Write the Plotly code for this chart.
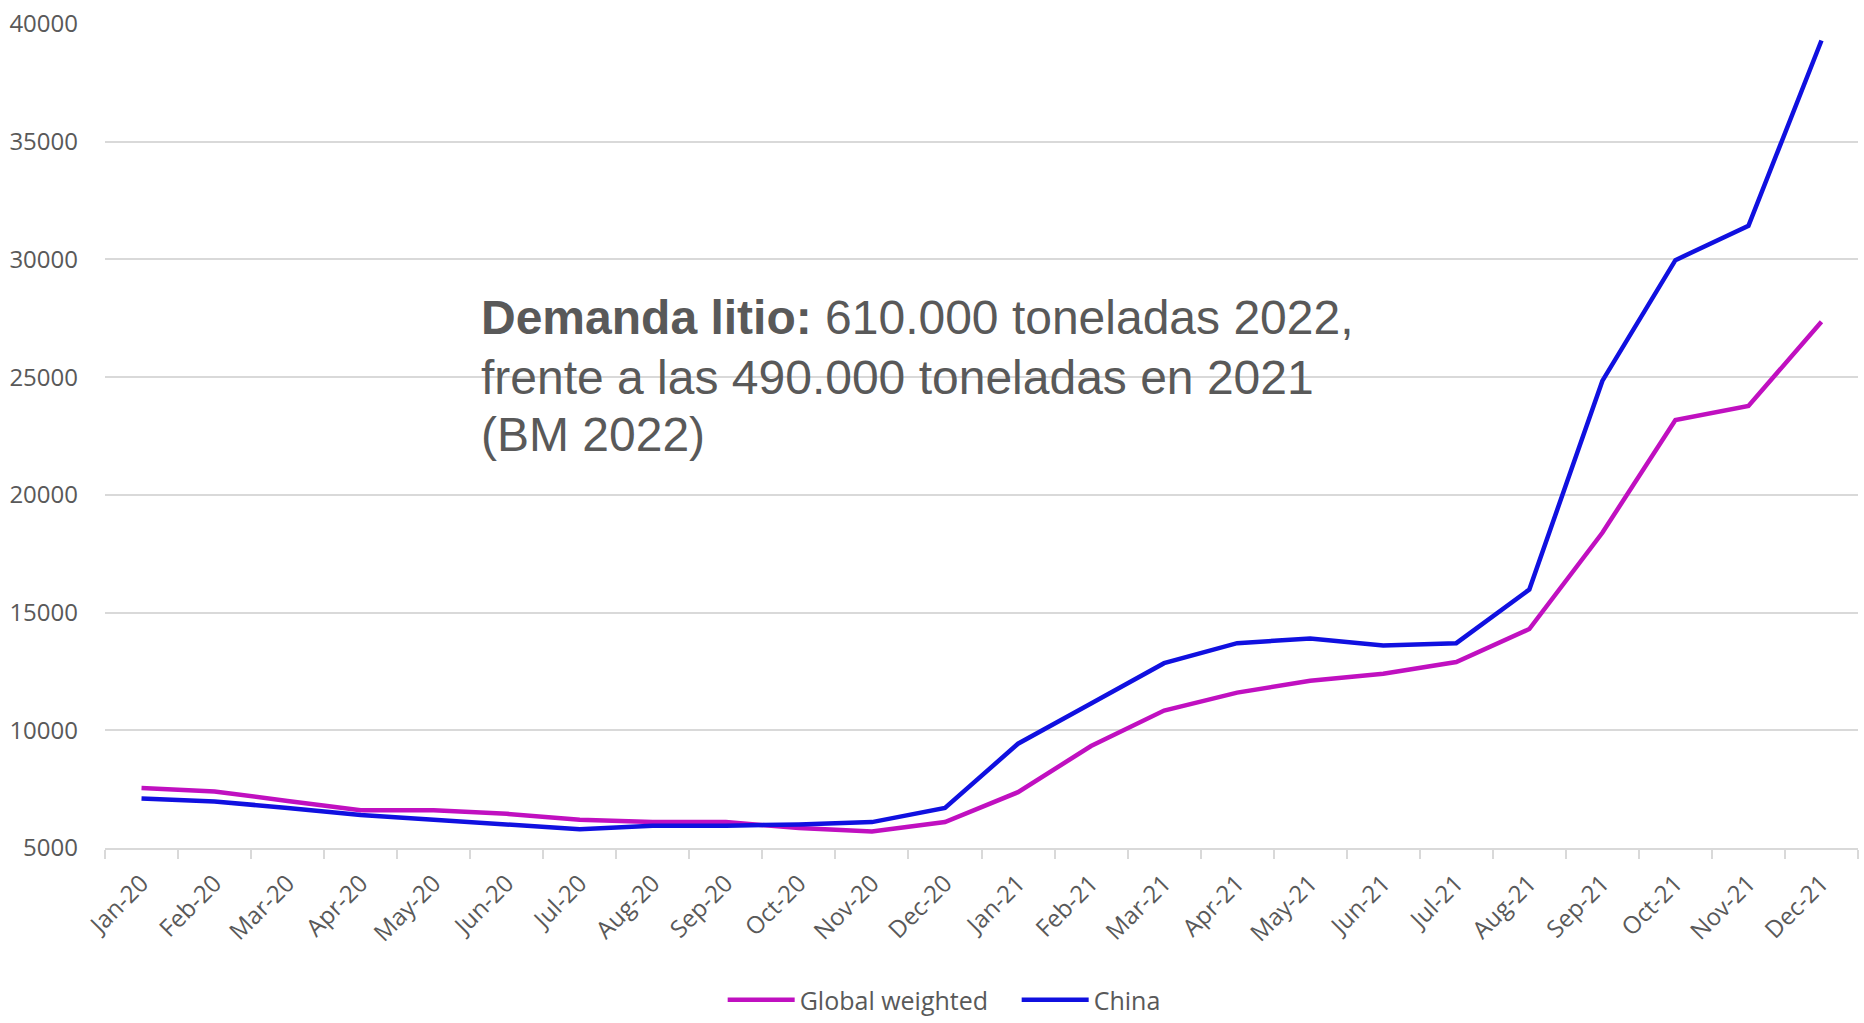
import plotly.graph_objects as go

months = ["Jan-20", "Feb-20", "Mar-20", "Apr-20", "May-20", "Jun-20", "Jul-20", "Aug-20",
          "Sep-20", "Oct-20", "Nov-20", "Dec-20", "Jan-21", "Feb-21", "Mar-21", "Apr-21",
          "May-21", "Jun-21", "Jul-21", "Aug-21", "Sep-21", "Oct-21", "Nov-21", "Dec-21"]

global_weighted = [7550, 7400, 7000, 6600, 6600, 6450, 6200, 6100, 6100, 5850, 5700, 6100,
                   7370, 9330, 10840, 11600, 12100, 12400, 12900, 14300, 18390, 23180, 23780, 27350]

china = [7100, 6980, 6700, 6400, 6200, 6000, 5800, 5950, 5950, 6000, 6100, 6700,
         9430, 11140, 12850, 13700, 13900, 13600, 13700, 15980, 24840, 29970, 31430, 39300]

y_ticks = [5000, 10000, 15000, 20000, 25000, 30000, 35000, 40000]

note_lines = [
    "<b>Demanda litio:</b> 610.000 toneladas 2022,",
    "frente a las 490.000 toneladas en 2021",
    "(BM 2022)",
]

fig = go.Figure()
fig.add_trace(go.Scatter(x=months, y=global_weighted, mode="lines", name="Global weighted",
                         line=dict(color="#C010C0", width=4.5)))
fig.add_trace(go.Scatter(x=months, y=china, mode="lines", name="China",
                         line=dict(color="#1010E0", width=4.5)))

tick_font = dict(family="Open Sans, sans-serif", size=24, color="#595959")

fig.update_layout(
    width=1864, height=1023,
    margin=dict(l=105, r=6, t=24, b=175),
    paper_bgcolor="white", plot_bgcolor="white",
    showlegend=True,
    legend=dict(orientation="h", xref="container", yref="container",
                x=0.3877, xanchor="left", y=0.0, yanchor="bottom",
                font=dict(family="Open Sans, sans-serif", size=25, color="#595959"),
                itemwidth=67, entrywidth=212, bgcolor="rgba(0,0,0,0)"),
    xaxis=dict(type="category", tickangle=-45, tickfont=tick_font, showgrid=False,
               showline=True, linecolor="#d9d9d9", linewidth=1.5, automargin=False,
               ticks="outside", tickson="boundaries", ticklen=9, tickcolor="#d9d9d9",
               tickwidth=1.5, ticklabelstandoff=10, range=[-0.5, len(months) - 0.5]),
    yaxis=dict(range=[5000, 40000], tickvals=y_ticks, tickformat="d", tickfont=tick_font,
               showgrid=True, gridcolor="#d9d9d9", gridwidth=1.5, zeroline=False,
               showline=False, ticklabelstandoff=26, automargin=False,
               ticklabeloverflow="allow"),
)

ys = [0.6433, 0.5715, 0.5023]
for txt, yy in zip(note_lines, ys):
    fig.add_annotation(text=txt, xref="paper", yref="paper", x=0.2136, y=yy,
                       xanchor="left", yanchor="middle", showarrow=False,
                       font=dict(family="Liberation Sans, Arial, sans-serif", size=48,
                                 color="#595959"))

fig.write_html("out.html", config={"displayModeBar": False},
               post_script="document.body.style.margin='0';document.body.style.overflow='hidden';")
